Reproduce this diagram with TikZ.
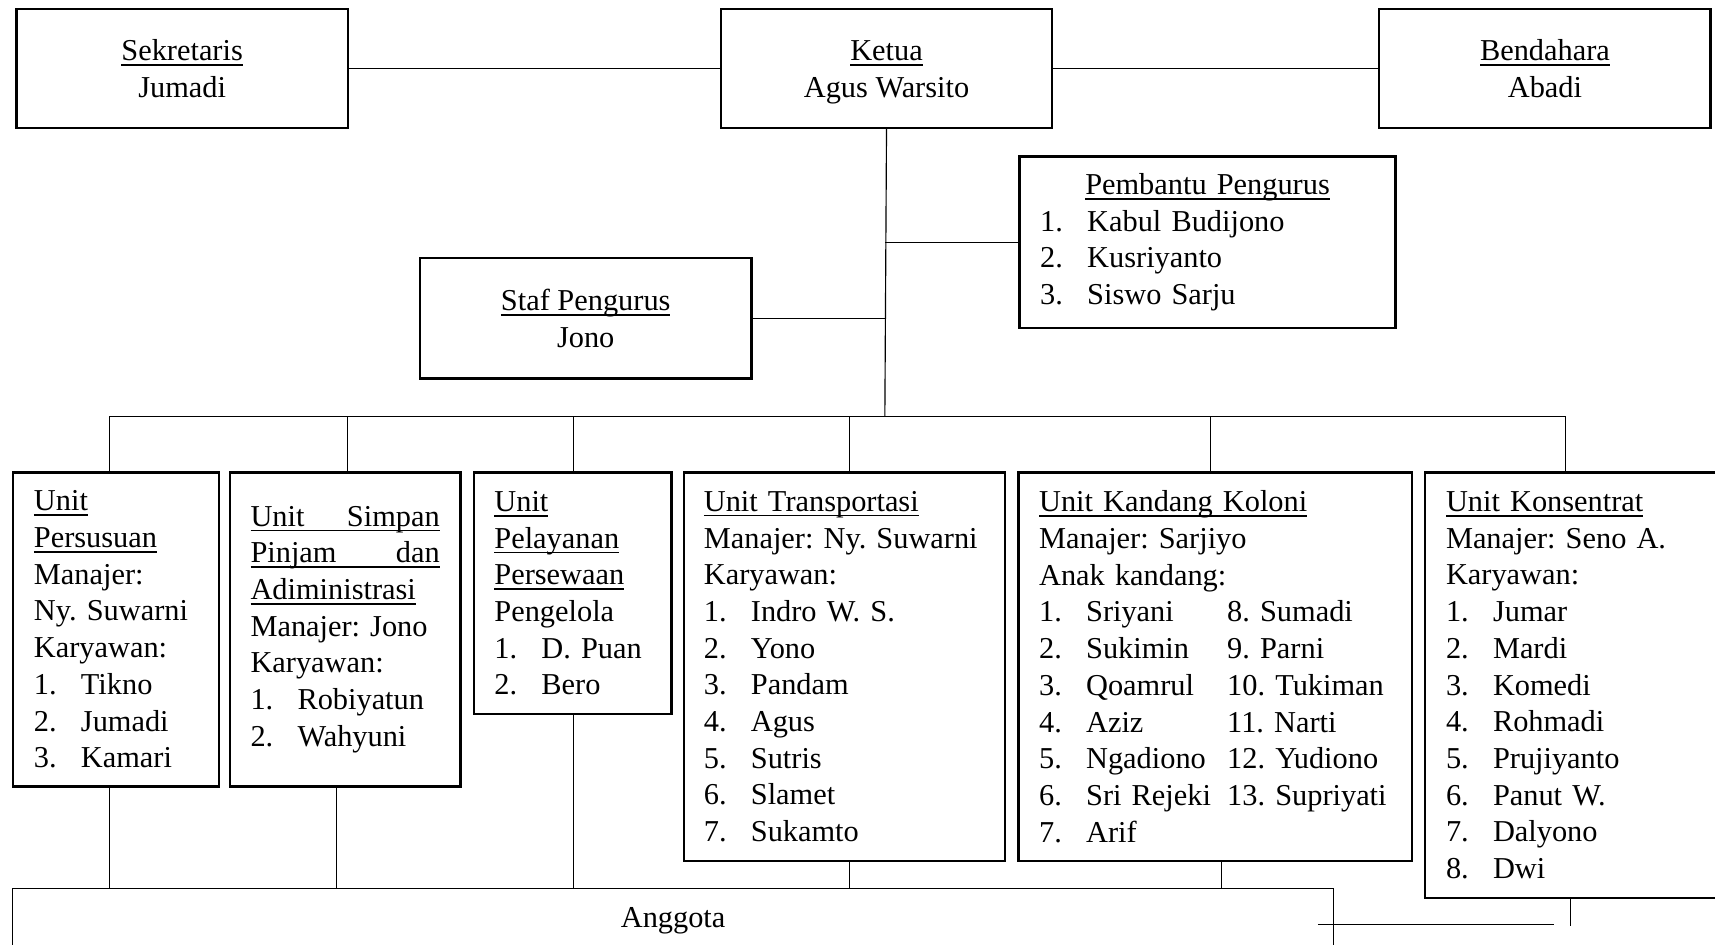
\documentclass[tikz,border=0pt]{standalone}
\usepackage{fontspec}
\setmainfont{Liberation Serif}

\newcommand{\garisb}[1]{\leavevmode\setbox0\hbox{#1}\rlap{\rule[-0.17em]{\wd0}{0.055em}}\box0}
\newcommand{\nomor}[2]{\makebox[0.86cm][l]{#1}#2}
\newcommand{\baris}[2]{\mbox{\makebox[3.44cm][l]{#1}#2}}
\newcommand{\atas}{\rule{0pt}{16.8pt}}
\hfuzz=20pt

\tikzset{
  kotak/.style={draw, line width=1.2pt, anchor=north west, font=\fontsize{15.8}{19.1}\selectfont\frenchspacing},
  unit/.style={kotak, align=left, inner xsep=0.38cm, inner ysep=0pt},
  garis/.style={line width=0.6pt}
}

\begin{document}
\begin{tikzpicture}[x=0.02cm, y=-0.02cm]
  \useasboundingbox (0,0) rectangle (1568,864);

  % pengurus
  \node[kotak, align=center, minimum width=6.06cm, minimum height=2.18cm] (sekretaris) at (14,7) {\garisb{Sekretaris}\atas\\Jumadi\strut};
  \node[kotak, align=center, minimum width=6.06cm, minimum height=2.18cm] (ketua) at (658,7) {\garisb{Ketua}\atas\\Agus Warsito\strut};
  \node[kotak, align=center, minimum width=6.06cm, minimum height=2.18cm] (bendahara) at (1260,7) {\garisb{Bendahara}\atas\\Abadi\strut};
  \node[kotak, align=left, text width=6.12cm, inner xsep=0.38cm, minimum height=3.14cm] (pembantu) at (931,142)
    {\makebox[6.12cm]{\garisb{Pembantu Pengurus}}\\ \nomor{1.}{Kabul Budijono}\\ \nomor{2.}{Kusriyanto}\\ \nomor{3.}{Siswo Sarju}};
  \node[kotak, align=center, minimum width=6.06cm, minimum height=2.2cm] (staf) at (383,235) {\garisb{Staf Pengurus}\atas\\Jono\strut};

  % unit usaha
  \node[unit, text width=3.0cm, minimum height=5.74cm] (u1) at (11,431)
    {\garisb{Unit}\\ \garisb{Persusuan}\\ Manajer:\\ Ny.~Suwarni\\ Karyawan:\\ \nomor{1.}{Tikno}\\ \nomor{2.}{Jumadi}\\ \nomor{3.}{Kamari}};
  \node[unit, text width=3.46cm, minimum height=5.74cm] (u2) at (209,431)
    {\garisb{\makebox[3.46cm]{Unit\hfill Simpan}}\\ \garisb{\makebox[3.46cm]{Pinjam\hfill dan}}\\ \garisb{Adiministrasi}\\ Manajer:~Jono\\ Karyawan:\\ \nomor{1.}{Robiyatun}\\ \nomor{2.}{Wahyuni}};
  \node[unit, text width=2.86cm, minimum height=4.42cm] (u3) at (432,431)
    {\garisb{Unit}\\ \garisb{Pelayanan}\\ \garisb{Persewaan}\\ Pengelola\\ \nomor{1.}{D.~Puan}\\ \nomor{2.}{Bero}};
  \node[unit, text width=5.14cm, inner xsep=0.37cm, minimum height=7.1cm] (u4) at (624,431)
    {\garisb{Unit Transportasi}\\ \mbox{Manajer: Ny. Suwarni}\\ Karyawan:\\ \nomor{1.}{Indro W.~S.}\\ \nomor{2.}{Yono}\\ \nomor{3.}{Pandam}\\
     \nomor{4.}{Agus}\\ \nomor{5.}{Sutris}\\ \nomor{6.}{Slamet}\\ \nomor{7.}{Sukamto}};
  \node[unit, text width=6.44cm, minimum height=7.1cm] (u5) at (930,431)
    {\garisb{Unit Kandang Koloni}\\ Manajer: Sarjiyo\\ Anak kandang:\\
     \baris{\nomor{1.}{Sriyani}}{8. Sumadi}\\
     \baris{\nomor{2.}{Sukimin}}{9. Parni}\\
     \baris{\nomor{3.}{Qoamrul}}{10. Tukiman}\\
     \baris{\nomor{4.}{Aziz}}{11. Narti}\\
     \baris{\nomor{5.}{Ngadiono}}{12. Yudiono}\\
     \baris{\nomor{6.}{Sri Rejeki}}{13. Supriyati}\\
     \nomor{7.}{Arif}};
  \node[unit, text width=4.78cm, minimum height=7.78cm] (u6) at (1302,431)
    {\garisb{Unit Konsentrat}\\ Manajer: Seno A.\\ Karyawan:\\ \nomor{1.}{Jumar}\\ \nomor{2.}{Mardi}\\ \nomor{3.}{Komedi}\\
     \nomor{4.}{Rohmadi}\\ \nomor{5.}{Prujiyanto}\\ \nomor{6.}{Panut W.}\\ \nomor{7.}{Dalyono}\\ \nomor{8.}{Dwi}};

  \node[kotak, garis, minimum width=24.16cm, minimum height=1.16cm] (anggota) at (11,812) {Anggota};

  % garis
  \coordinate (cabang) at (809,381);
  \coordinate (g1) at (1205,845);
  \coordinate (g2) at (1421,845);
  \draw[garis] (sekretaris.east) -- (ketua.west);
  \draw[garis] (ketua.east) -- (bendahara.west);
  \draw[garis] (ketua.south) -- (cabang);
  \draw[garis] (pembantu.west) -- (pembantu.west -| cabang);
  \draw[garis] (staf.east) -- (staf.east -| cabang);
  \foreach \u/\dx in {u1/-0.12,u2/0.04,u3/0.02,u4/0.1,u5/-0.08,u6/-0.2}
    \draw[garis] ([xshift=\dx cm]\u.north) |- (cabang);
  \foreach \u/\dx in {u1/-0.12,u2/-0.15,u3/0.02,u4/0.1,u5/0.12}
    \draw[garis] ([xshift=\dx cm]\u.south) -- ([xshift=\dx cm]\u.south |- anggota.north);
  \draw[garis] ([xshift=-0.12cm]u6.south) -- ++(0,25);
  \draw[garis] (g1) -- (g2);
\end{tikzpicture}
\end{document}
